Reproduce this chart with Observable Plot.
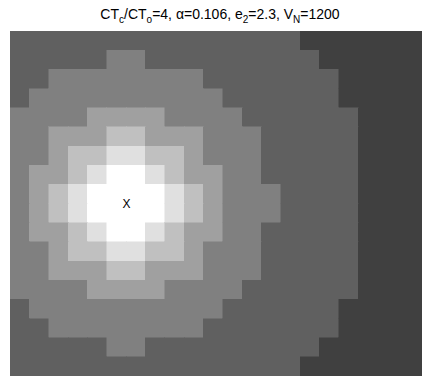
<!DOCTYPE html>
<html><head><meta charset="utf-8">
<script src="https://cdn.jsdelivr.net/npm/d3@7"></script>
<script src="https://cdn.jsdelivr.net/npm/@observablehq/plot@0.6"></script>
<style>
html,body{margin:0;padding:0;background:#fff;overflow:hidden;font-family:"Liberation Sans",Arial,sans-serif;}
#title{position:relative;height:31px;width:422px;overflow:hidden;}
#title .t{position:absolute;left:0;width:440px;top:6.5px;text-align:center;font-size:14px;line-height:15px;white-space:nowrap;color:#000;}
#title sub{font-size:10px;vertical-align:-3.5px;line-height:0;}
#chart svg{display:block;}
</style></head><body>
<div id="title"><span class="t">CT<sub>c</sub>/CT<sub>o</sub>=4, α=0.106, e<sub>2</sub>=2.3, V<sub>N</sub>=1200</span></div>
<div id="chart"></div>
<script>
// Gray level index of every cell, one string per grid row (top to bottom), one digit per column
const gridRows = [
  "1111111111111110000000",
  "1111122111111111000000",
  "1122222222111111100000",
  "1222222222211111100000",
  "2222333322221111110000",
  "2233344333222111110000",
  "2234455443222111110000",
  "2334566543322111110000",
  "2345666654322211110000",
  "2345666654322211110000",
  "2334566543322111110000",
  "2234455443222111110000",
  "2233344333222111110000",
  "2222333322221111110000",
  "1222222222211111100000",
  "1122222222111111100000",
  "1111122111111111000000",
  "1111111111111110000000"
];
const levels = [0, 1, 2, 3, 4, 5, 6];
const levelGrays = ["#404040", "#606060", "#808080", "#a0a0a0", "#c0c0c0", "#e0e0e0", "#ffffff"];
const markerX = [6];
const markerY = [9];
const markerText = ["X"];

const cells = [];
gridRows.forEach((row, r) => {
  [...row].forEach((ch, c) => {
    cells.push({c, r, level: +ch});
  });
});
const markers = markerX.map((x, i) => ({x, y: markerY[i], t: markerText[i]}));

const chart = Plot.plot({
  width: 422,
  height: 346,
  marginLeft: 10,
  marginRight: 0,
  marginTop: 0,
  marginBottom: 1,
  style: {background: "white", fontFamily: "Liberation Sans, Arial, sans-serif"},
  x: {domain: [0, 21.31], axis: null},
  y: {domain: [0, 18], reverse: true, axis: null},
  color: {type: "ordinal", domain: levels, range: levelGrays},
  marks: [
    Plot.rect(cells, {x1: "c", x2: d => d.c + 1, y1: "r", y2: d => d.r + 1, fill: "level", stroke: "level", strokeWidth: 0.5, shapeRendering: "crispEdges", clip: true}),
    Plot.text(markers, {x: "x", y: "y", text: "t", fontSize: 12, fill: "black"})
  ]
});
document.getElementById("chart").appendChild(chart);
</script>
</body></html>
